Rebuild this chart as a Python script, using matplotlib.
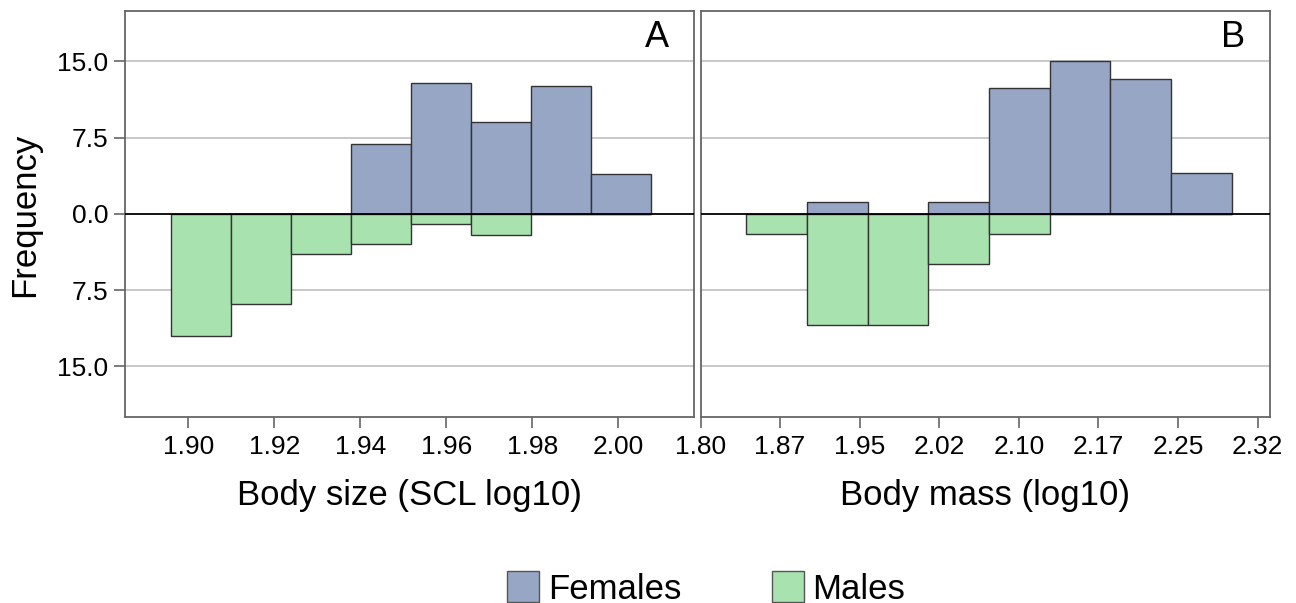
import matplotlib
matplotlib.use('Agg')
import matplotlib.pyplot as plt
from matplotlib.patches import Patch
import numpy as np

plt.rcParams['font.family'] = ['Liberation Sans', 'DejaVu Sans']

# Bordas das classes e frequencias
bordas_a = [1.8960, 1.9100, 1.9239, 1.9378, 1.9518, 1.9657, 1.9796, 1.9936, 2.0075]
femeas_a = [0, 0, 0, 6.9, 12.9, 9.0, 12.6, 3.9]
machos_a = [12.0, 8.9, 4.0, 3.0, 1.0, 2.1, 0, 0]

bordas_b = [1.8430, 1.9002, 1.9574, 2.0145, 2.0717, 2.1289, 2.1861, 2.2433, 2.3005]
femeas_b = [0, 1.2, 0, 1.2, 12.35, 15.0, 13.3, 4.05]
machos_b = [1.95, 10.95, 10.95, 4.95, 1.95, 0, 0, 0]

ticks_a = [1.90, 1.92, 1.94, 1.96, 1.98, 2.00]
rotulos_a = ["1.90", "1.92", "1.94", "1.96", "1.98", "2.00"]
ticks_b = [1.80, 1.875, 1.95, 2.025, 2.10, 2.175, 2.25, 2.325]
rotulos_b = ["1.80", "1.87", "1.95", "2.02", "2.10", "2.17", "2.25", "2.32"]

ticks_y = [15.0, 7.5, 0.0, -7.5, -15.0]
rotulos_y = ["15.0", "7.5", "0.0", "7.5", "15.0"]

cor_femeas = '#97a6c4'
cor_machos = '#a8e2ae'
cor_borda = '#333333'
cor_eixo = '#666666'

W, H = 1296, 603
fig = plt.figure(figsize=(W / 100, H / 100), dpi=100)
ax_a = fig.add_axes([125 / W, (H - 417) / H, (694 - 125) / W, (417 - 10.7) / H])
ax_b = fig.add_axes([700.5 / W, (H - 417) / H, (1270 - 700.5) / W, (417 - 10.7) / H])


def desenhar(ax, bordas, femeas, machos, xlim, ticks, rotulos, letra, xlabel):
    larguras = np.diff(bordas)
    for y in [15, 7.5, -7.5, -15]:
        ax.axhline(y, color='#c4c4c4', lw=1.3, zorder=0)
    ax.bar(bordas[:-1], femeas, width=larguras, align='edge', color=cor_femeas,
           edgecolor=cor_borda, linewidth=1.0, zorder=2)
    ax.bar(bordas[:-1], [-m for m in machos], width=larguras, align='edge', color=cor_machos,
           edgecolor=cor_borda, linewidth=1.0, zorder=2)
    ax.axhline(0, color='black', lw=1.3, zorder=3)
    ax.set_xlim(*xlim)
    ax.set_ylim(-20, 20)
    ax.set_xticks(ticks)
    ax.set_xticklabels(rotulos)
    ax.tick_params(axis='x', length=8, width=1.2, color=cor_eixo, labelsize=19, pad=5)
    for s in ax.spines.values():
        s.set_color(cor_eixo)
        s.set_linewidth(1.3)
    ax.text(0.935, 0.935, letra, transform=ax.transAxes, fontsize=26, ha='center', va='center')
    ax.set_xlabel(xlabel, fontsize=25, labelpad=14)


desenhar(ax_a, bordas_a, femeas_a, machos_a, (1.8853, 2.0176), ticks_a, rotulos_a, 'A',
         'Body size (SCL log10)')
desenhar(ax_b, bordas_b, femeas_b, machos_b, (1.80, 2.3366), ticks_b, rotulos_b, 'B',
         'Body mass (log10)')

ax_a.set_yticks(ticks_y)
ax_a.set_yticklabels(rotulos_y)
ax_a.tick_params(axis='y', length=8, width=1.2, color=cor_eixo, labelsize=19, pad=4)
ax_b.set_yticks([])

fig.text(25 / W, 1 - 215 / H, 'Frequency', rotation=90, fontsize=25, ha='center', va='center')

handles = [Patch(facecolor=cor_femeas, edgecolor='#555555', label='Females'),
           Patch(facecolor=cor_machos, edgecolor='#555555', label='Males')]
fig.legend(handles=handles, loc='center', bbox_to_anchor=(0.545, 0.024), ncol=2, frameon=False,
           fontsize=25, handlelength=0.92, handleheight=1.0, handletextpad=0.25,
           columnspacing=2.6)

fig.savefig('out.png', dpi=100)
